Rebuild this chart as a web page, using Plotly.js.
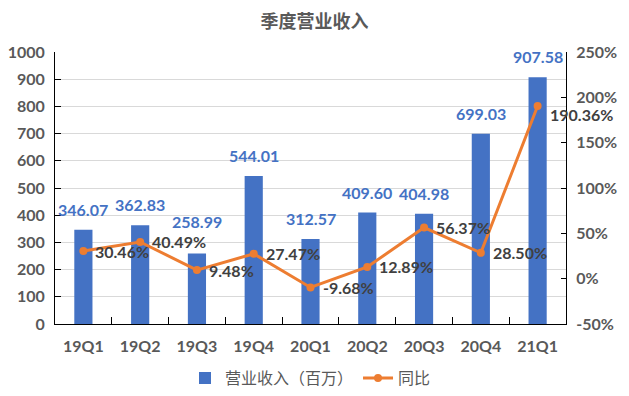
<!DOCTYPE html>
<html>
<head>
<meta charset="utf-8">
<script src="https://cdn.plot.ly/plotly-3.0.1.min.js"></script>
<style>html,body{margin:0;padding:0;background:#fff;}#chart{width:629px;height:396px;}</style>
</head>
<body>
<div id="chart"></div>
<script>
const categories = ['19Q1','19Q2','19Q3','19Q4','20Q1','20Q2','20Q3','20Q4','21Q1'];
const revenue = [346.07, 362.83, 258.99, 544.01, 312.57, 409.60, 404.98, 699.03, 907.58];
const yoy = [30.46, 40.49, 9.48, 27.47, -9.68, 12.89, 56.37, 28.50, 190.36];
const y2Ticks = [-50, 0, 50, 100, 150, 200, 250];

const numFont = 'Lato, "Noto Sans CJK SC", sans-serif';
const cjkFont = '"Noto Sans CJK SC", sans-serif';

const traces = [
  {
    type: 'bar', name: '营业收入（百万）', x: categories, y: revenue,
    marker: {color: '#4472C4'}, width: 0.32
  },
  {
    type: 'scatter', mode: 'lines+markers', name: '同比', x: categories, y: yoy, yaxis: 'y2',
    line: {color: '#ED7D31', width: 3}, marker: {color: '#ED7D31', size: 8}
  }
];

const barLabels = categories.map((c, i) => ({
  x: c, y: revenue[i], xref: 'x', yref: 'y', text: revenue[i].toFixed(2),
  showarrow: false, xanchor: 'center', yanchor: 'bottom', yshift: i === 2 ? 21 : 9,
  font: {family: numFont, size: 16, color: '#4472C4', weight: 'bold'}
}));
const lineLabels = categories.map((c, i) => ({
  x: c, y: yoy[i], xref: 'x', yref: 'y2', text: yoy[i].toFixed(2) + '%',
  showarrow: false, xanchor: 'left', yanchor: 'middle', xshift: 10, yshift: i === 8 ? -8 : 0,
  font: {family: numFont, size: 16, color: '#404040', weight: 'bold'}
}));

const tickFont = {family: numFont, size: 16, color: '#595959', weight: 'bold'};

const layout = {
  width: 629, height: 396,
  margin: {l: 55, r: 63, t: 52, b: 72, autoexpand: false},
  paper_bgcolor: '#fff', plot_bgcolor: '#fff',
  title: {text: '季度营业收入', x: 0.5, xanchor: 'center', y: 0.945, yanchor: 'middle',
          font: {family: cjkFont, size: 18, color: '#595959', weight: 'bold'}},
  xaxis: {
    range: [-0.5, categories.length - 0.5], autorange: false,
    showline: true, linecolor: '#000', linewidth: 1,
    ticks: 'inside', tickson: 'boundaries', ticklen: 7, tickcolor: '#000',
    tickfont: tickFont, ticklabelstandoff: 8,
    showgrid: false
  },
  yaxis: {
    range: [0, 1000], dtick: 100, showline: true, linecolor: '#000', linewidth: 1,
    ticks: 'inside', ticklen: 6, tickcolor: '#000',
    gridcolor: '#D9D9D9', zeroline: false,
    tickfont: tickFont, ticklabelstandoff: 6
  },
  yaxis2: {
    overlaying: 'y', side: 'right', range: [-50, 250],
    tickvals: y2Ticks, ticktext: y2Ticks.map(v => v + '%'),
    showline: true, linecolor: '#000', linewidth: 1,
    ticks: 'inside', ticklen: 5, tickcolor: '#000',
    showgrid: false, zeroline: false,
    tickfont: tickFont, ticklabelstandoff: 6
  },
  annotations: barLabels.concat(lineLabels),
  showlegend: true,
  legend: {orientation: 'h', x: 0.5, xanchor: 'center', yref: 'container', y: 0.045, yanchor: 'middle',
           font: {family: cjkFont, size: 16, color: '#595959'}},
};

Plotly.newPlot('chart', traces, layout, {displayModeBar: false, staticPlot: true});
</script>
</body>
</html>
